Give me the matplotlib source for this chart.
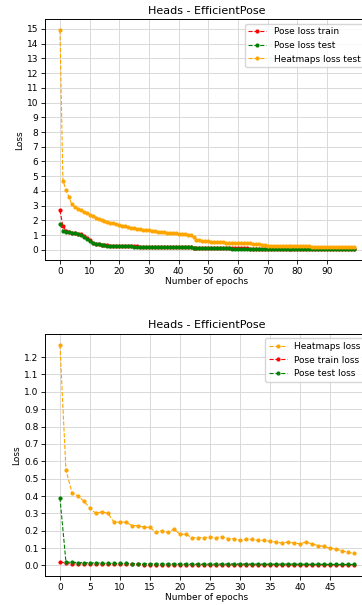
import matplotlib

matplotlib.use("Agg")
import matplotlib.pyplot as plt  # noqa: E402

# top panel: 100 epochs
epochs_a = list(range(100))
heat_test_a = [
    14.9, 4.7, 4.1, 3.6, 3.1, 2.9, 2.8, 2.7, 2.6, 2.5,
    2.4, 2.3, 2.2, 2.1, 2.0, 1.95, 1.9, 1.85, 1.8, 1.75,
    1.7, 1.65, 1.6, 1.55, 1.5, 1.47, 1.44, 1.41, 1.38, 1.35,
    1.32, 1.29, 1.26, 1.24, 1.22, 1.2, 1.18, 1.16, 1.14, 1.12,
    1.1, 1.08, 1.06, 1.04, 1.0, 0.85, 0.7, 0.65, 0.62, 0.6,
    0.58, 0.56, 0.55, 0.54, 0.53, 0.52, 0.5, 0.49, 0.48, 0.47,
    0.46, 0.45, 0.45, 0.44, 0.44, 0.43, 0.42, 0.38, 0.35, 0.32,
    0.3, 0.29, 0.29, 0.28, 0.28, 0.27, 0.27, 0.26, 0.26, 0.25,
    0.25, 0.25, 0.24, 0.24, 0.24, 0.23, 0.23, 0.23, 0.22, 0.22,
    0.22, 0.22, 0.21, 0.21, 0.21, 0.21, 0.2, 0.2, 0.2, 0.2,
]
pose_train_a = [
    2.7, 1.6, 1.3, 1.22, 1.17, 1.13, 1.1, 1.06, 0.96, 0.82,
    0.65, 0.5, 0.42, 0.38, 0.35, 0.33, 0.31, 0.3, 0.29, 0.28,
    0.27, 0.26, 0.26, 0.25, 0.25, 0.24, 0.24, 0.23, 0.23, 0.23,
    0.22, 0.22, 0.22, 0.21, 0.21, 0.21, 0.2, 0.2, 0.2, 0.2,
    0.19, 0.19, 0.19, 0.19, 0.18, 0.13, 0.12, 0.12, 0.12, 0.12,
    0.11, 0.11, 0.11, 0.11, 0.11, 0.11, 0.1, 0.1, 0.1, 0.1,
    0.1, 0.1, 0.1, 0.1, 0.09, 0.09, 0.09, 0.09, 0.09, 0.09,
    0.09, 0.08, 0.08, 0.08, 0.08, 0.08, 0.08, 0.08, 0.08, 0.08,
    0.07, 0.07, 0.07, 0.07, 0.07, 0.07, 0.07, 0.07, 0.07, 0.07,
    0.07, 0.06, 0.06, 0.06, 0.06, 0.06, 0.06, 0.06, 0.06, 0.06,
]
pose_test_a = [
    1.75, 1.3, 1.25, 1.2, 1.15, 1.12, 1.08, 1.02, 0.9, 0.75,
    0.6, 0.47, 0.4, 0.37, 0.34, 0.32, 0.3, 0.29, 0.28, 0.27,
    0.26, 0.25, 0.25, 0.24, 0.24, 0.23, 0.23, 0.22, 0.22, 0.22,
    0.21, 0.21, 0.21, 0.2, 0.2, 0.2, 0.19, 0.19, 0.19, 0.19,
    0.18, 0.18, 0.18, 0.18, 0.17, 0.12, 0.11, 0.11, 0.11, 0.11,
    0.1, 0.1, 0.1, 0.1, 0.1, 0.1, 0.1, 0.1, 0.09, 0.09,
    0.09, 0.09, 0.09, 0.09, 0.09, 0.08, 0.08, 0.08, 0.08, 0.08,
    0.08, 0.08, 0.07, 0.07, 0.07, 0.07, 0.07, 0.07, 0.07, 0.07,
    0.07, 0.07, 0.06, 0.06, 0.06, 0.06, 0.06, 0.06, 0.06, 0.06,
    0.06, 0.06, 0.06, 0.05, 0.05, 0.05, 0.05, 0.05, 0.05, 0.05,
]
xticks_a = list(range(0, 100, 10))
yticks_a = list(range(0, 16))

# bottom panel: 50 epochs
epochs_b = list(range(50))
heat_b = [
    1.27, 0.55, 0.42, 0.40, 0.37, 0.33, 0.30, 0.31, 0.30, 0.25,
    0.25, 0.25, 0.23, 0.23, 0.22, 0.22, 0.19, 0.20, 0.19, 0.21,
    0.18, 0.18, 0.16, 0.16, 0.16, 0.165, 0.16, 0.165, 0.155, 0.155,
    0.145, 0.15, 0.15, 0.145, 0.145, 0.14, 0.135, 0.13, 0.135, 0.13,
    0.125, 0.135, 0.125, 0.115, 0.11, 0.10, 0.095, 0.085, 0.075, 0.07,
]
pose_train_b = [
    0.022, 0.012, 0.01, 0.01, 0.009, 0.009, 0.008, 0.006, 0.006, 0.006,
    0.006, 0.006, 0.006, 0.006, 0.005, 0.005, 0.005, 0.004, 0.005, 0.005,
    0.005, 0.005, 0.005, 0.005, 0.004, 0.004, 0.003, 0.004, 0.004, 0.004,
    0.004, 0.004, 0.004, 0.004, 0.004, 0.004, 0.004, 0.003, 0.003, 0.003,
    0.003, 0.003, 0.003, 0.003, 0.003, 0.003, 0.003, 0.003, 0.003, 0.003,
]
pose_test_b = [
    0.39, 0.02, 0.018, 0.017, 0.016, 0.015, 0.015, 0.013, 0.012, 0.012,
    0.012, 0.012, 0.011, 0.011, 0.011, 0.011, 0.01, 0.01, 0.01, 0.01,
    0.01, 0.01, 0.01, 0.01, 0.009, 0.009, 0.009, 0.009, 0.009, 0.009,
    0.009, 0.009, 0.009, 0.008, 0.008, 0.008, 0.008, 0.008, 0.008, 0.008,
    0.008, 0.007, 0.007, 0.007, 0.007, 0.006, 0.006, 0.006, 0.006, 0.006,
]
xticks_b = list(range(0, 50, 5))
yticks_b = [i / 10 for i in range(0, 13)]

FS = 6.5
STYLE = dict(ls="--", lw=0.8, marker=".", ms=4)


def _style(ax, xticks, yticks, yfmt):
    ax.set_xticks(xticks)
    ax.set_yticks(yticks, [yfmt.format(v) for v in yticks])
    ax.tick_params(labelsize=FS, length=3, width=0.6, pad=2)
    ax.grid(True, color="0.85", lw=0.7)
    ax.set_axisbelow(True)
    ax.set_xlabel("Number of epochs", fontsize=FS, labelpad=1)
    ax.set_ylabel("Loss", fontsize=FS, labelpad=2)
    ax.set_title("Heads - EfficientPose", fontsize=8, pad=4)
    for s in ax.spines.values():
        s.set_linewidth(0.7)


fig = plt.figure(figsize=(3.62, 6.05), dpi=100)
ax1 = fig.add_axes([0.125, 0.570, 0.893, 0.398])
ax1.plot(epochs_a, pose_train_a, color="red", label="Pose loss train", **STYLE)
ax1.plot(epochs_a, pose_test_a, color="green", label="Pose loss test", **STYLE)
ax1.plot(epochs_a, heat_test_a, color="orange", label="Heatmaps loss test", **STYLE)
_style(ax1, xticks_a, yticks_a, "{:.0f}")
ax1.legend(fontsize=FS, loc="upper right")

ax2 = fig.add_axes([0.125, 0.048, 0.893, 0.400])
ax2.plot(epochs_b, heat_b, color="orange", label="Heatmaps loss", **STYLE)
ax2.plot(epochs_b, pose_train_b, color="red", label="Pose train loss", **STYLE)
ax2.plot(epochs_b, pose_test_b, color="green", label="Pose test loss", **STYLE)
_style(ax2, xticks_b, yticks_b, "{:.1f}")
ax2.legend(fontsize=FS, loc="upper right")

fig.savefig("out.png", dpi=100)
